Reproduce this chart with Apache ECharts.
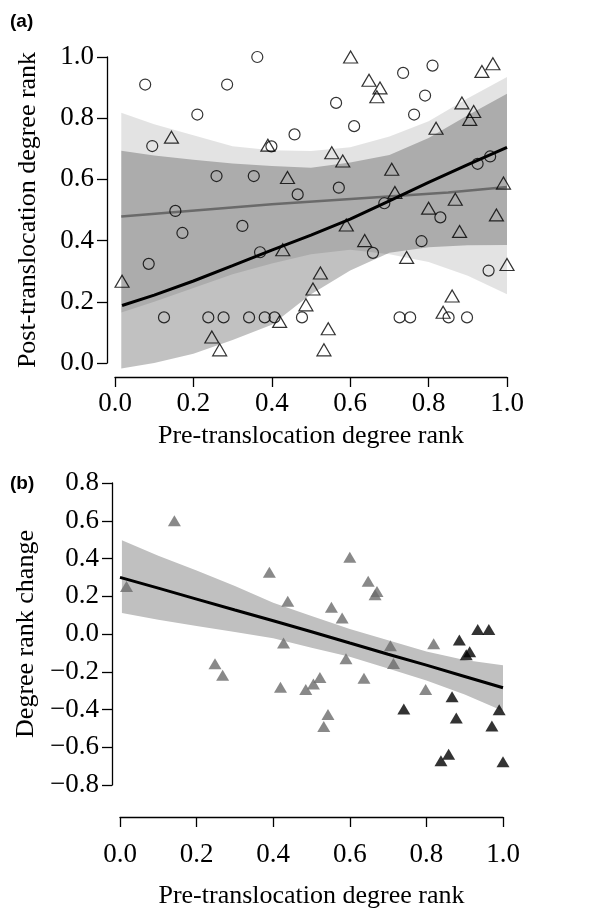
<!DOCTYPE html>
<html><head><meta charset="utf-8">
<script src="https://cdn.jsdelivr.net/npm/echarts@6/dist/echarts.min.js"></script>
<style>html,body{margin:0;padding:0;background:#fff}#c{width:607px;height:910px}</style>
</head><body><div id="c"></div>
<script>
// ---------- Panel (a) data ----------
const circlesA = [[0.077,0.910],[0.095,0.709],[0.086,0.324],[0.125,0.149],[0.154,0.497],[0.172,0.425],[0.21,0.812],[0.238,0.149],[0.259,0.611],[0.277,0.149],[0.286,0.910],[0.325,0.448],[0.342,0.149],[0.354,0.611],[0.363,1.0],[0.37,0.362],[0.382,0.149],[0.399,0.708],[0.407,0.149],[0.458,0.747],[0.466,0.551],[0.477,0.149],[0.564,0.850],[0.571,0.573],[0.61,0.774],[0.658,0.36],[0.687,0.522],[0.726,0.149],[0.735,0.948],[0.753,0.149],[0.763,0.812],[0.782,0.398],[0.791,0.874],[0.81,0.972],[0.83,0.476],[0.851,0.149],[0.898,0.149],[0.925,0.651],[0.953,0.302],[0.957,0.675]];
const trianglesA = [[0.018,0.267],[0.144,0.738],[0.247,0.085],[0.267,0.043],[0.39,0.712],[0.42,0.136],[0.428,0.37],[0.44,0.606],[0.487,0.19],[0.505,0.242],[0.524,0.294],[0.533,0.043],[0.544,0.112],[0.553,0.687],[0.581,0.66],[0.59,0.451],[0.601,1.0],[0.637,0.4],[0.648,0.924],[0.668,0.87],[0.676,0.899],[0.706,0.633],[0.714,0.557],[0.744,0.345],[0.8,0.506],[0.819,0.767],[0.837,0.166],[0.86,0.219],[0.868,0.535],[0.879,0.43],[0.885,0.85],[0.905,0.796],[0.915,0.822],[0.936,0.953],[0.964,0.978],[0.973,0.484],[0.991,0.588],[1.0,0.322]];
const fitBlackX = [0.018,0.1,0.2,0.3,0.4,0.5,0.6,0.7,0.8,0.9,1.0];
const fitBlackY = [0.188,0.222,0.268,0.318,0.369,0.418,0.47,0.53,0.59,0.648,0.705];
const fitGrayX = [0.016,0.4,0.85,1.0];
const fitGrayY = [0.479,0.519,0.557,0.575];
const bandX = [0.016,0.1,0.2,0.3,0.4,0.5,0.6,0.7,0.8,0.9,1.0];
const bandGrayHi = [0.818,0.78,0.744,0.708,0.695,0.693,0.705,0.74,0.79,0.865,0.935];
const bandGrayLo = [0.165,0.2,0.245,0.29,0.325,0.355,0.37,0.355,0.33,0.285,0.225];
const bandBlackHi = [0.694,0.678,0.664,0.652,0.644,0.638,0.655,0.68,0.735,0.81,0.88];
const bandBlackLo = [-0.018,0.0,0.03,0.075,0.125,0.225,0.302,0.36,0.378,0.385,0.386];

// ---------- Panel (b) data ----------
const grayTriB = [[0.017,0.251],[0.142,0.600],[0.248,-0.157],[0.268,-0.218],[0.39,0.327],[0.419,-0.282],[0.427,-0.048],[0.438,0.173],[0.485,-0.294],[0.505,-0.265],[0.522,-0.23],[0.532,-0.49],[0.543,-0.426],[0.552,0.142],[0.58,0.085],[0.59,-0.131],[0.6,0.407],[0.637,-0.235],[0.648,0.28],[0.666,0.208],[0.671,0.225],[0.706,-0.062],[0.714,-0.156],[0.798,-0.294],[0.819,-0.052]];
const blackTriB = [[0.741,-0.398],[0.838,-0.671],[0.858,-0.637],[0.867,-0.333],[0.878,-0.445],[0.886,-0.032],[0.904,-0.11],[0.913,-0.094],[0.934,0.024],[0.963,0.024],[0.971,-0.487],[0.99,-0.401],[1.0,-0.677]];
const fitBX = [0,0.1,0.2,0.3,0.4,0.5,0.6,0.7,0.8,0.9,1.0];
const fitBY = [0.30,0.243,0.185,0.127,0.07,0.012,-0.048,-0.107,-0.165,-0.225,-0.285];
const bandBX = [0.005,0.1,0.2,0.3,0.4,0.5,0.6,0.7,0.8,0.9,1.0];
const bandBHi = [0.497,0.415,0.336,0.254,0.166,0.096,0.027,-0.033,-0.093,-0.138,-0.165];
const bandBLo = [0.111,0.076,0.043,0.01,-0.022,-0.073,-0.12,-0.183,-0.247,-0.32,-0.408];

// ---------- Titles ----------
const titleA_x = 'Pre-translocation degree rank';
const titleA_y = 'Post-translocation degree rank';
const titleB_x = 'Pre-translocation degree rank';
const titleB_y = 'Degree rank change';

const SERIF = 'Liberation Serif, Times New Roman, serif';
const fmt = v => v.toFixed(1).replace('-', '\u2212');
const zip = (xs, ys) => xs.map((x, i) => [x, ys[i]]);

function axisCommon(extra, labelMargin, nameSize) {
  return Object.assign({
    type: 'value',
    splitLine: { show: false },
    axisLine: { show: true, onZero: false, lineStyle: { color: '#000', width: 1.3 } },
    axisTick: { show: true, length: 10, lineStyle: { color: '#000', width: 1.3 } },
    axisLabel: { color: '#000', fontFamily: SERIF, fontSize: 27, formatter: fmt, margin: labelMargin },
    nameLocation: 'middle',
    nameTextStyle: { color: '#000', fontFamily: SERIF, fontSize: nameSize }
  }, extra);
}

function band(xi, xs, lo, hi, fill) {
  return {
    type: 'custom', xAxisIndex: xi, yAxisIndex: xi, silent: true, z: 1,
    data: [[0.5, 0.5]],
    renderItem: (params, api) => {
      const pts = [];
      for (let i = 0; i < xs.length; i++) pts.push(api.coord([xs[i], hi[i]]));
      for (let i = xs.length - 1; i >= 0; i--) pts.push(api.coord([xs[i], lo[i]]));
      return { type: 'polygon', shape: { points: pts }, style: { fill: fill } };
    }
  };
}

const chart = echarts.init(document.getElementById('c'), null, { renderer: 'canvas' });
chart.setOption({
  animation: false,
  backgroundColor: '#fff',
  grid: [
    { left: 115, top: 57, width: 392, height: 306 },
    { left: 120, top: 483, width: 383, height: 309 }
  ],
  xAxis: [
    axisCommon({ gridIndex: 0, min: 0, max: 1, interval: 0.2, offset: 14, name: titleA_x, nameGap: 46 }, 13, 26),
    axisCommon({ gridIndex: 1, min: 0, max: 1, interval: 0.2, offset: 32, name: titleB_x, nameGap: 66 }, 24, 26)
  ],
  yAxis: [
    axisCommon({ gridIndex: 0, min: 0, max: 1, interval: 0.2, offset: 8, name: titleA_y, nameGap: 66 }, 13, 26),
    axisCommon({ gridIndex: 1, min: -0.8, max: 0.8, interval: 0.2, offset: 8, name: titleB_y, nameGap: 71 }, 13, 26)
  ],
  graphic: [
    { type: 'text', left: 10, top: 12, style: { text: '(a)', font: 'bold 19px Liberation Sans, Arial, sans-serif', fill: '#000' } },
    { type: 'text', left: 10, top: 474, style: { text: '(b)', font: 'bold 19px Liberation Sans, Arial, sans-serif', fill: '#000' } }
  ],
  series: [
    band(0, bandX, bandGrayLo, bandGrayHi, 'rgba(0,0,0,0.11)'),
    band(0, bandX, bandBlackLo, bandBlackHi, 'rgba(0,0,0,0.245)'),
    { type: 'line', xAxisIndex: 0, yAxisIndex: 0, data: zip(fitGrayX, fitGrayY), showSymbol: false, silent: true,
      lineStyle: { color: '#6a6a6a', width: 2.5 }, z: 2 },
    { type: 'line', xAxisIndex: 0, yAxisIndex: 0, data: zip(fitBlackX, fitBlackY), showSymbol: false, silent: true,
      lineStyle: { color: '#000', width: 3 }, z: 2 },
    { type: 'scatter', xAxisIndex: 0, yAxisIndex: 0, data: circlesA, symbol: 'circle', symbolSize: 11, z: 3,
      itemStyle: { color: 'rgba(0,0,0,0)', borderColor: '#000', borderWidth: 1.2 } },
    { type: 'scatter', xAxisIndex: 0, yAxisIndex: 0, data: trianglesA, symbol: 'triangle', symbolSize: [14, 12], z: 3,
      itemStyle: { color: 'rgba(0,0,0,0)', borderColor: '#000', borderWidth: 1.2 } },

    band(1, bandBX, bandBLo, bandBHi, '#c0c0c0'),
    { type: 'line', xAxisIndex: 1, yAxisIndex: 1, data: zip(fitBX, fitBY), showSymbol: false, silent: true,
      lineStyle: { color: '#000', width: 3 }, z: 2 },
    { type: 'scatter', xAxisIndex: 1, yAxisIndex: 1, data: grayTriB, symbol: 'triangle', symbolSize: [13, 11], z: 3,
      itemStyle: { color: '#6b6b6b' } },
    { type: 'scatter', xAxisIndex: 1, yAxisIndex: 1, data: blackTriB, symbol: 'triangle', symbolSize: [13, 11], z: 3,
      itemStyle: { color: '#000' } }
  ]
});
</script>
</body></html>
